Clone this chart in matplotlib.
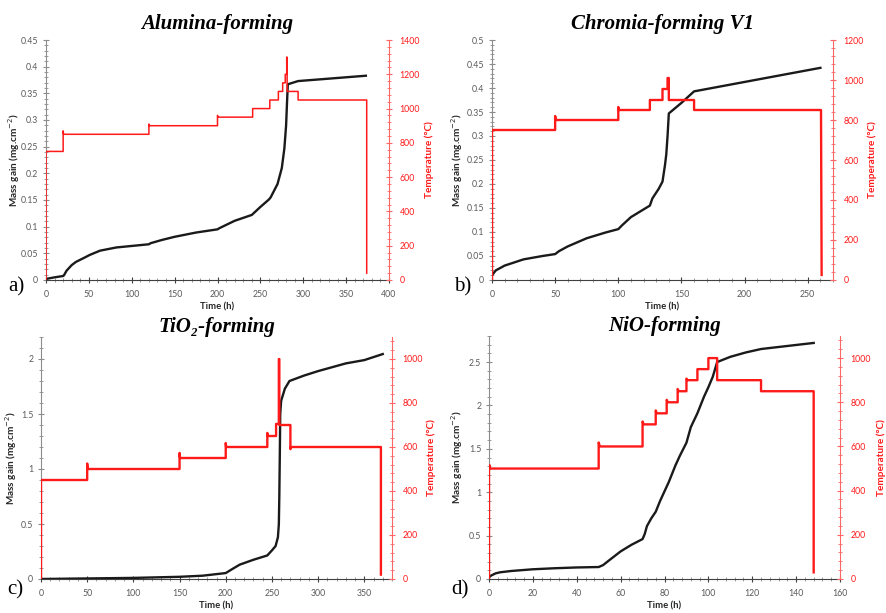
import numpy as np
import matplotlib
matplotlib.use("Agg")
import matplotlib.pyplot as plt
from matplotlib.ticker import MultipleLocator, AutoMinorLocator, FuncFormatter

plt.rcParams['font.family'] = ['Lato', 'DejaVu Sans']

# a) Alumina-forming
ma_t = [0, 10, 20, 21, 24, 30, 35, 45, 51, 63, 82, 101, 120, 122, 135, 150, 175, 200, 202, 220, 240, 242,
        250, 260, 262, 270, 275, 278, 280, 281, 282, 294, 373]
ma_m = [0.002, 0.005, 0.0075, 0.009, 0.0175, 0.028, 0.034, 0.042, 0.047, 0.055, 0.061, 0.064, 0.067, 0.069,
        0.075, 0.081, 0.089, 0.095, 0.097, 0.111, 0.122, 0.125, 0.137, 0.151, 0.155, 0.18, 0.21, 0.247, 0.29,
        0.33, 0.367, 0.373, 0.383]
ta_t = [0, 0, 20, 20, 20.5, 120, 120, 120.5, 200, 200, 200.5, 241, 241, 261, 261, 271, 271, 276, 276, 279, 279,
        280.7, 280.7, 281.2, 281.2, 294, 294, 374, 374]
ta_T = [0, 750, 750, 870, 850, 850, 910, 900, 900, 960, 950, 950, 1000, 1000, 1050, 1050, 1100, 1100, 1150,
        1150, 1200, 1200, 1300, 1300, 1100, 1100, 1050, 1050, 40]

# b) Chromia-forming V1
mb_t = [0, 3, 10, 25, 40, 50, 53, 60, 75, 90, 100, 103, 110, 125, 127, 132, 135, 137, 138, 139, 140, 150, 160, 260]
mb_m = [0.01, 0.02, 0.03, 0.043, 0.05, 0.054, 0.06, 0.07, 0.087, 0.099, 0.106, 0.114, 0.131, 0.155, 0.17, 0.19,
        0.205, 0.24, 0.262, 0.3, 0.347, 0.369, 0.393, 0.442]
tb_t = [0, 0, 50, 50, 50.5, 100, 100, 100.5, 125, 125, 135, 135, 139, 139, 140, 140, 160, 160, 260.5, 261]
tb_T = [0, 750, 750, 820, 800, 800, 865, 850, 850, 900, 900, 955, 955, 1010, 1010, 900, 900, 850, 850, 25]

# c) TiO2-forming
mc_t = [0, 50, 100, 150, 175, 200, 207, 215, 230, 245, 250, 254, 256.5, 257.5, 258, 258.5, 259, 260, 264,
        269, 285, 300, 330, 350, 370]
mc_m = [0.0, 0.005, 0.01, 0.02, 0.03, 0.054, 0.09, 0.13, 0.175, 0.214, 0.26, 0.3, 0.38, 0.5, 0.75, 1.1, 1.5,
        1.62, 1.73, 1.80, 1.85, 1.89, 1.96, 1.99, 2.045]
tc_t = [0, 0, 50, 50, 50.5, 150, 150, 150.5, 200, 200, 200.5, 245, 245, 245.5, 254.5, 254.5, 257.5, 257.5,
        258, 258, 270, 270, 270.5, 368, 368]
tc_T = [0, 450, 450, 525, 500, 500, 573, 550, 550, 618, 600, 600, 664, 650, 650, 705, 705, 1000, 1000, 700,
        700, 590, 600, 600, 20]

# d) NiO-forming
md_t = [0, 1, 3, 5, 10, 20, 30, 40, 50, 52, 55, 60, 65, 70, 71, 72, 74, 76, 78, 80, 82, 85, 87, 90, 92, 95,
        98, 100, 102, 104, 110, 117, 124, 148]
md_m = [0.02, 0.04, 0.065, 0.077, 0.092, 0.112, 0.124, 0.133, 0.138, 0.16, 0.22, 0.318, 0.395, 0.46, 0.52,
        0.61, 0.7, 0.775, 0.9, 1.01, 1.12, 1.31, 1.42, 1.57, 1.75, 1.91, 2.1, 2.21, 2.33, 2.5, 2.56, 2.61,
        2.65, 2.72]
td_t = [0, 0, 0.3, 0.3, 50, 50, 50.5, 70, 70, 70.5, 76, 76, 76.5, 81, 81, 81.5, 86, 86, 86.5, 90, 90, 90.5,
        95, 95, 100, 100, 104, 104, 124, 124, 148, 148]
td_T = [0, 515, 515, 500, 500, 618, 600, 600, 713, 700, 700, 763, 750, 750, 811, 800, 800, 860, 850, 850,
        907, 900, 900, 950, 950, 1000, 1000, 900, 900, 850, 850, 30]

panels = [
  dict(title="Alumina-forming", letter="a)", m=(ma_t, ma_m), T=(ta_t, ta_T), xlim=400, xstep=50,
       ylim=0.45, ystep=0.05, tlim=1400, rlw=1.1),
  dict(title="Chromia-forming V1", letter="b)", m=(mb_t, mb_m), T=(tb_t, tb_T), xlim=270, xstep=50,
       ylim=0.5, ystep=0.05, tlim=1200, rlw=1.7),
  dict(title="TiO\u2082-forming", letter="c)", m=(mc_t, mc_m), T=(tc_t, tc_T), xlim=380, xstep=50,
       ylim=2.2, ystep=0.5, tlim=1100, rlw=1.7),
  dict(title="NiO-forming", letter="d)", m=(md_t, md_m), T=(td_t, td_T), xlim=160, xstep=20,
       ylim=2.8, ystep=0.5, tlim=1100, rlw=1.7),
]

W, H = 886, 613
# left, right, top, bottom in pixels
boxes = [(46, 389, 40, 280), (492, 833, 40, 280), (41, 392, 337, 579), (489, 840, 336, 579)]
ylab_x = [22, 465, 19, 465]
tlab_x = [424.5, 867.5, 426.5, 876.5]
let_pos = [(16, 287), (463, 287), (15, 590), (460, 590)]
xlab_y = [302, 302, 601, 601]   # top of the x label

gray = '#595959'
red = '#ff1a1a'

fig = plt.figure(figsize=(W / 100, H / 100), dpi=100)

for p, (l, r, t, b), yx, tx, (lx, ly), xy in zip(panels, boxes, ylab_x, tlab_x, let_pos, xlab_y):
  ax = fig.add_axes([l / W, 1 - b / H, (r - l) / W, (b - t) / H])
  ax2 = ax.twinx()
  ax.plot(p["m"][0], p["m"][1], color='#1a1a1a', lw=1.7, zorder=3)
  ax2.plot(p["T"][0], p["T"][1], color=red, lw=p["rlw"])

  ax.set_xlim(0, p["xlim"])
  ax.set_ylim(0, p["ylim"])
  ax2.set_ylim(0, p["tlim"])
  ax.xaxis.set_major_locator(MultipleLocator(p["xstep"]))
  ax.yaxis.set_major_locator(MultipleLocator(p["ystep"]))
  ax2.yaxis.set_major_locator(MultipleLocator(200))
  for a in (ax.xaxis, ax.yaxis, ax2.yaxis):
    a.set_minor_locator(AutoMinorLocator(5))
  ax.yaxis.set_major_formatter(FuncFormatter(lambda v, pos: "%g" % round(v, 3)))

  for s in ("top", "right"):
    ax.spines[s].set_visible(False)
  for s in ("top", "left", "bottom"):
    ax2.spines[s].set_visible(False)
  ax.spines["left"].set_color('#8c8c8c')
  ax.spines["bottom"].set_color('#404040')
  ax2.spines["right"].set_color('#ff6666')

  ax.tick_params(axis='both', which='major', direction='inout', length=5, width=0.8,
                 labelsize=6.3, colors='#8c8c8c', labelcolor=gray)
  ax.tick_params(axis='both', which='minor', direction='inout', length=3, width=0.6, colors='#8c8c8c')
  ax.tick_params(axis='x', pad=5, colors='#404040', labelcolor=gray)
  ax.tick_params(axis='y', pad=3)
  ax2.tick_params(axis='y', which='major', direction='inout', length=5, width=0.8, labelsize=6.3,
                  colors='#ff6666', labelcolor=red, pad=5)
  ax2.tick_params(axis='y', which='minor', direction='inout', length=3, width=0.6, colors='#ff6666')

  ax.set_ylabel("Mass gain (mg.cm$^{-2}$)", fontsize=7.2, fontweight='bold', color='#262626')
  ax.yaxis.set_label_coords((yx - l) / (r - l), 0.5)
  ax2.set_ylabel("Temperature (\u00b0C)", fontsize=7.2, fontweight='bold', color=red, rotation=90)
  ax2.yaxis.set_label_coords((tx - l) / (r - l), 0.5)
  ax.set_xlabel("Time (h)", fontsize=6.8, fontweight='bold', color='#262626')
  ax.xaxis.set_label_coords(0.5, (b - xy) / (b - t))

  ax.set_title(p["title"], family=['Liberation Serif', 'DejaVu Serif'], fontsize=15,
               fontweight='bold', style='italic', pad=8 if t < 100 else 3)
  fig.text(lx / W, 1 - ly / H, p["letter"], family=['Liberation Serif', 'DejaVu Serif'], fontsize=15,
           ha='center', va='center')

fig.savefig("out.png", dpi=100)
